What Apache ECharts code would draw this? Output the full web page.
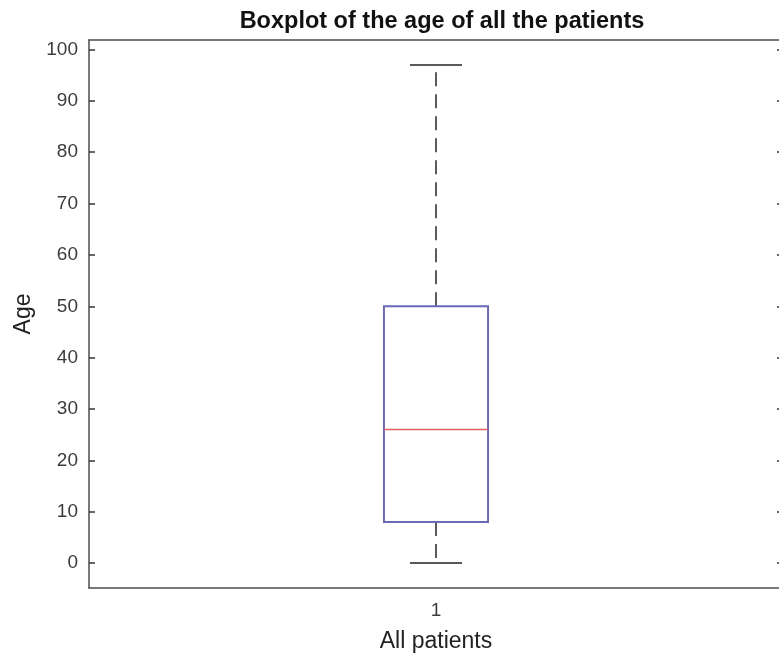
<!DOCTYPE html>
<html>
<head>
<meta charset="utf-8">
<script src="https://cdn.jsdelivr.net/npm/echarts@6/dist/echarts.min.js"></script>
<style>
html,body{margin:0;padding:0;background:#fff;}
#chart{width:779px;height:657px;}
</style>
</head>
<body>
<div id="chart"></div>
<script>
// ---- data ----
const categories = ['1'];
const boxMin = [0];
const boxQ1 = [8];
const boxMedian = [26];
const boxQ3 = [50];
const boxMax = [97];
const yTickValues = [0, 10, 20, 30, 40, 50, 60, 70, 80, 90, 100];
const yMin = -4.85;
const yMax = 101.85;

const seriesData = categories.map((c, i) => [i, boxMin[i], boxQ1[i], boxMedian[i], boxQ3[i], boxMax[i]]);

const FONT = '"Liberation Sans", Arial, Helvetica, sans-serif';
const AXIS_COLOR = '#4d4d4d';
const TEXT_COLOR = '#3c3c3c';

const chart = echarts.init(document.getElementById('chart'), null, {renderer: 'canvas'});

function renderBox(params, api) {
  const idx = api.value(0);
  const vMin = api.value(1), q1 = api.value(2), med = api.value(3), q3 = api.value(4), vMax = api.value(5);
  const band = api.size([1, 0])[0];
  const boxW = band * 0.15;
  const capW = boxW * 0.5;
  const pMin = api.coord([idx, vMin]);
  const pQ1 = api.coord([idx, q1]);
  const pMed = api.coord([idx, med]);
  const pQ3 = api.coord([idx, q3]);
  const pMax = api.coord([idx, vMax]);
  const cx = pMed[0];
  const whiskerStyle = {stroke: '#5a5a5a', lineWidth: 2, lineDash: [14, 8], fill: null};
  const capStyle = {stroke: '#5a5a5a', lineWidth: 2, fill: null};
  return {
    type: 'group',
    children: [
      {type: 'line', shape: {x1: cx, y1: pQ3[1], x2: cx, y2: pMax[1]}, style: whiskerStyle},
      {type: 'line', shape: {x1: cx, y1: pQ1[1], x2: cx, y2: pMin[1]}, style: whiskerStyle},
      {type: 'line', shape: {x1: cx - capW / 2, y1: pMax[1], x2: cx + capW / 2, y2: pMax[1]}, style: capStyle},
      {type: 'line', shape: {x1: cx - capW / 2, y1: pMin[1], x2: cx + capW / 2, y2: pMin[1]}, style: capStyle},
      {type: 'rect', shape: {x: cx - boxW / 2, y: pQ3[1], width: boxW, height: pQ1[1] - pQ3[1]},
        style: {stroke: '#6a6ab6', lineWidth: 2, fill: null}},
      {type: 'line', shape: {x1: cx - boxW / 2, y1: pMed[1], x2: cx + boxW / 2, y2: pMed[1]},
        style: {stroke: '#e06060', lineWidth: 1.5}}
    ]
  };
}

const option = {
  backgroundColor: '#ffffff',
  animation: false,
  title: {
    text: 'Boxplot of the age of all the patients',
    left: 437,
    textAlign: 'center',
    top: 5,
    textStyle: {fontFamily: FONT, fontSize: 23.5, fontWeight: 'bold', color: '#111'}
  },
  grid: {left: 89, top: 40, width: 694, height: 548, containLabel: false, outerBoundsMode: 'none'},
  xAxis: [
    {
      type: 'category', data: categories, position: 'bottom',
      boundaryGap: true,
      axisLine: {onZero: false, lineStyle: {color: AXIS_COLOR, width: 1.5}},
      axisTick: {inside: true, alignWithLabel: true, length: 6, lineStyle: {color: '#222', width: 1.5}},
      axisLabel: {fontFamily: FONT, fontSize: 19, color: TEXT_COLOR, margin: 13},
      name: 'All patients', nameLocation: 'middle', nameGap: 42,
      nameTextStyle: {fontFamily: FONT, fontSize: 23, color: '#222'},
      splitLine: {show: false}
    },
    {
      type: 'category', data: categories, position: 'top',
      boundaryGap: true,
      axisLine: {onZero: false, lineStyle: {color: AXIS_COLOR, width: 1.5}},
      axisTick: {inside: true, alignWithLabel: true, length: 6, lineStyle: {color: '#222', width: 1.5}},
      axisLabel: {show: false},
      splitLine: {show: false}
    }
  ],
  yAxis: [
    {
      type: 'value', min: yMin, max: yMax, position: 'left',
      axisLine: {show: true, onZero: false, lineStyle: {color: AXIS_COLOR, width: 1.5}},
      axisTick: {show: true, inside: true, length: 6, customValues: yTickValues, lineStyle: {color: '#333', width: 1.5}},
      axisLabel: {fontFamily: FONT, fontSize: 19, color: TEXT_COLOR, margin: 11, customValues: yTickValues},
      splitLine: {show: false},
      name: 'Age', nameLocation: 'middle', nameGap: 52, nameRotate: 90,
      nameTextStyle: {fontFamily: FONT, fontSize: 23, color: '#222'}
    },
    {
      type: 'value', min: yMin, max: yMax, position: 'right',
      axisLine: {show: true, onZero: false, lineStyle: {color: AXIS_COLOR, width: 1.5}},
      axisTick: {show: true, inside: true, length: 6, customValues: yTickValues, lineStyle: {color: '#333', width: 1.5}},
      axisLabel: {show: false},
      splitLine: {show: false}
    }
  ],
  series: [
    {
      type: 'custom',
      xAxisIndex: 0, yAxisIndex: 0,
      renderItem: renderBox,
      encode: {x: 0, y: [1, 2, 3, 4, 5]},
      data: seriesData,
      clip: false
    }
  ]
};

chart.setOption(option);
</script>
</body>
</html>
